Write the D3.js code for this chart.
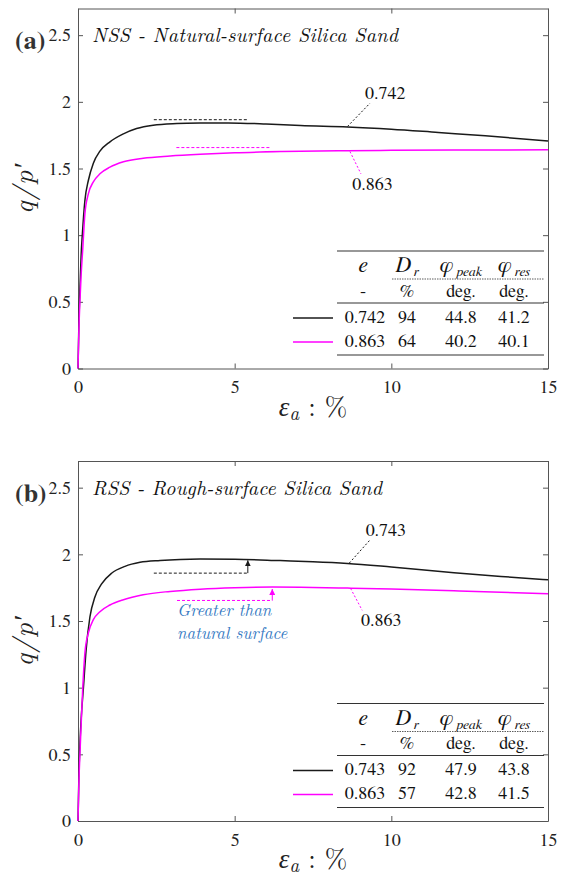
<!DOCTYPE html>
<html>
<head>
<meta charset="utf-8">
<script src="https://cdn.jsdelivr.net/npm/d3@7"></script>
<style>
  html, body { margin: 0; padding: 0; background: #fff; }
  .axis path, .axis line { stroke: #555; stroke-width: 1; }
</style>
</head>
<body>
<svg id="chart" width="563" height="878"></svg>
<script>
// ---- data ----
const xTicks = [0, 5, 10, 15];
const yTicks = [0, 0.5, 1, 1.5, 2, 2.5];

// (a) NSS
const nssDenseX = [0, 0.03, 0.07, 0.1, 0.14, 0.22, 0.33, 0.49, 0.7, 1.02, 1.45, 1.87, 2.4, 3.15, 3.9, 4.8, 6, 7.1, 8.6, 10, 11.5, 13, 15];
const nssDenseY = [0, 0.35, 0.65, 0.85, 1.01, 1.26, 1.41, 1.54, 1.63, 1.70, 1.76, 1.80, 1.825, 1.837, 1.841, 1.842, 1.834, 1.822, 1.812, 1.795, 1.77, 1.745, 1.707];
const nssLooseX = [0, 0.03, 0.07, 0.1, 0.15, 0.22, 0.33, 0.49, 0.7, 1.02, 1.45, 2.08, 2.94, 3.9, 5, 6.5, 8.6, 10, 12, 15];
const nssLooseY = [0, 0.3, 0.55, 0.7, 0.89, 1.16, 1.31, 1.40, 1.46, 1.51, 1.55, 1.577, 1.594, 1.607, 1.618, 1.627, 1.634, 1.636, 1.638, 1.64];

// (b) RSS
const rssDenseX = [0, 0.03, 0.07, 0.11, 0.17, 0.26, 0.38, 0.54, 0.76, 1.08, 1.5, 1.98, 2.62, 3.26, 3.9, 5, 6.45, 7.5, 8.6, 10, 12, 13.5, 15];
const rssDenseY = [0, 0.35, 0.62, 0.8, 0.99, 1.285, 1.53, 1.68, 1.78, 1.86, 1.91, 1.94, 1.954, 1.962, 1.965, 1.963, 1.953, 1.945, 1.932, 1.905, 1.862, 1.834, 1.809];
const rssLooseX = [0, 0.03, 0.07, 0.1, 0.15, 0.22, 0.33, 0.49, 0.7, 1.02, 1.45, 2.08, 2.94, 3.9, 5, 6.2, 7.5, 8.6, 10, 12, 13.5, 15];
const rssLooseY = [0, 0.3, 0.55, 0.72, 0.99, 1.26, 1.41, 1.51, 1.57, 1.62, 1.66, 1.697, 1.722, 1.739, 1.75, 1.755, 1.752, 1.747, 1.74, 1.727, 1.716, 1.704];

// peak reference dashes [x0, x1, y, arrow tip y]
const nssPeakDense = [2.42, 5.41, 1.866];
const nssPeakLoose = [3.14, 6.14, 1.657];
const rssPeakDense = [2.42, 5.42, 1.859, 1.955];
const rssPeakLoose = [3.16, 6.2, 1.654, 1.74];

// void-ratio labels: [curve x, curve y, label-end x, label-end y]
const nssLeaderDense = [8.6, 1.815, 9.32, 1.99];
const nssLeaderLoose = [8.68, 1.627, 9.03, 1.46];
const rssLeaderDense = [8.66, 1.935, 9.32, 2.108];
const rssLeaderLoose = [8.7, 1.744, 9.07, 1.58];

const tableHead = [{ t: "e", s: "" }, { t: "D", s: "r" }, { t: "φ", s: "peak" }, { t: "φ", s: "res" }];
const tableUnits = ["-", "%", "deg.", "deg."];
const nssRows = [["0.742", "94", "44.8", "41.2"], ["0.863", "64", "40.2", "40.1"]];
const rssRows = [["0.743", "92", "47.9", "43.8"], ["0.863", "57", "42.8", "41.5"]];
const noteLines = ["Greater than", "natural surface"];

const BLACK = "#1a1a1a", MAGENTA = "#ff00ff", BLUE = "#3579c2";
const NUM = "FreeSerif";
const MATH = "'Latin Modern Roman'";

// ---- layout ----
const left = 78, W = 470, H = 360;
const svg = d3.select("#chart");

const defs = svg.append("defs");
[["arrK", BLACK], ["arrM", MAGENTA]].forEach(([id, c]) => {
  defs.append("marker")
    .attr("id", id).attr("viewBox", "0 0 6 6")
    .attr("refX", 6).attr("refY", 3)
    .attr("markerWidth", 6).attr("markerHeight", 6)
    .attr("markerUnits", "userSpaceOnUse").attr("orient", "auto")
    .append("path").attr("d", "M0,0 L6,3 L0,6 z").attr("fill", c);
});

const panels = [
  {
    top: 8.5, tag: "(a)", title: "NSS - Natural-surface Silica Sand", titleLen: 306,
    dense: [nssDenseX, nssDenseY], loose: [nssLooseX, nssLooseY],
    peakD: nssPeakDense, peakL: nssPeakLoose, arrows: false,
    leadD: nssLeaderDense, leadL: nssLeaderLoose,
    labD: "0.742", labL: "0.863", labDpos: [9.16, 2.02], labLpos: [8.75, 1.34],
    rows: nssRows, note: false
  },
  {
    top: 461, tag: "(b)", title: "RSS - Rough-surface Silica Sand", titleLen: 290,
    dense: [rssDenseX, rssDenseY], loose: [rssLooseX, rssLooseY],
    peakD: rssPeakDense, peakL: rssPeakLoose, arrows: true,
    leadD: rssLeaderDense, leadL: rssLeaderLoose,
    labD: "0.743", labL: "0.863", labDpos: [9.18, 2.138], labLpos: [9.03, 1.462],
    rows: rssRows, note: true
  }
];

panels.forEach(p => drawPanel(p));

function drawPanel(p) {
  const g = svg.append("g").attr("transform", `translate(${left},${p.top})`);
  const x = d3.scaleLinear().domain([0, 15]).range([0, W]);
  const y = d3.scaleLinear().domain([0, 2.7]).range([H, 0]);

  // axes (box with inward ticks)
  g.append("g").attr("class", "axis").attr("transform", `translate(0,${H})`)
    .call(d3.axisBottom(x).tickValues(xTicks).tickSizeInner(-5).tickSizeOuter(0).tickPadding(12).tickFormat(d3.format("d")));
  g.append("g").attr("class", "axis")
    .call(d3.axisLeft(y).tickValues(yTicks).tickSizeInner(-5).tickSizeOuter(0).tickPadding(7).tickFormat(d => d));
  g.append("g").attr("class", "axis")
    .call(d3.axisTop(x).tickValues(xTicks).tickSizeInner(-5).tickSizeOuter(0).tickFormat(""));
  g.append("g").attr("class", "axis").attr("transform", `translate(${W},0)`)
    .call(d3.axisRight(y).tickValues(yTicks).tickSizeInner(-5).tickSizeOuter(0).tickFormat(""));
  g.selectAll(".axis").attr("font-family", null).attr("font-size", null);
  g.selectAll(".axis text").style("font-family", NUM).style("font-size", "18px").attr("fill", "#222");

  // curves
  const line = d3.line().x(d => x(d[0])).y(d => y(d[1])).curve(d3.curveMonotoneX);
  [[p.dense, BLACK], [p.loose, MAGENTA]].forEach(([xy, c]) => {
    g.append("path")
      .datum(xy[0].map((v, i) => [v, xy[1][i]]))
      .attr("d", line).attr("fill", "none").attr("stroke", c).attr("stroke-width", 1.5);
  });

  // peak reference dashes
  [[p.peakD, BLACK, "arrK"], [p.peakL, MAGENTA, "arrM"]].forEach(([pk, c, m]) => {
    g.append("line")
      .attr("x1", x(pk[0])).attr("x2", x(pk[1])).attr("y1", y(pk[2])).attr("y2", y(pk[2]))
      .attr("stroke", c).attr("stroke-width", 1).attr("stroke-dasharray", "3,2");
    if (p.arrows) {
      g.append("line")
        .attr("x1", x(pk[1])).attr("x2", x(pk[1])).attr("y1", y(pk[2])).attr("y2", y(pk[3]))
        .attr("stroke", c).attr("stroke-width", 1).attr("marker-end", `url(#${m})`);
    }
  });

  // void ratio leaders + labels
  [[p.leadD, BLACK, p.labD, p.labDpos], [p.leadL, MAGENTA, p.labL, p.labLpos]].forEach(([ld, c, t, pos]) => {
    g.append("line")
      .attr("x1", x(ld[0])).attr("y1", y(ld[1])).attr("x2", x(ld[2])).attr("y2", y(ld[3]))
      .attr("stroke", c).attr("stroke-width", 1).attr("stroke-dasharray", "2,2");
    g.append("text").attr("x", x(pos[0])).attr("y", y(pos[1]))
      .style("font-family", NUM).style("font-size", "18px").attr("fill", "#111").text(t);
  });

  if (p.note) {
    g.selectAll("text.note").data(noteLines).enter().append("text")
      .attr("class", "note").attr("x", 99).attr("y", (d, i) => 155 + i * 23)
      .style("font-family", MATH).style("font-size", "17px").style("font-style", "italic")
      .attr("fill", BLUE).text(d => d);
  }

  // title + panel tag
  g.append("text").attr("x", 14).attr("y", 33.5)
    .style("font-family", MATH).style("font-size", "20px").style("font-style", "italic").attr("fill", "#111")
    .attr("textLength", p.titleLen).attr("lengthAdjust", "spacing").text(p.title);
  g.append("text").attr("x", -63).attr("y", 40.5)
    .style("font-family", NUM).style("font-size", "26px").style("font-weight", "bold").attr("fill", "#333").text(p.tag);

  // axis labels
  g.append("text").attr("transform", `translate(-45,${H / 2}) rotate(-90)`)
    .style("font-family", MATH).style("font-size", "28px").style("font-style", "italic")
    .attr("text-anchor", "middle").attr("letter-spacing", 1).attr("fill", "#222").text("q/p′");
  const xl = g.append("text").attr("x", W / 2).attr("y", H + 47)
    .style("font-family", MATH).style("font-size", "27px").attr("text-anchor", "middle").attr("fill", "#222");
  xl.append("tspan").style("font-style", "italic").text("ε");
  xl.append("tspan").style("font-style", "italic").style("font-size", "19px").attr("dy", 4).text("a");
  xl.append("tspan").attr("dy", -4).text(" : %");

  // legend table
  const cols = [285, 329, 383, 436];
  const tb = g.append("g");
  const hline = (y0, x0, x1, dash, w) => tb.append("line")
    .attr("x1", x0).attr("x2", x1).attr("y1", y0).attr("y2", y0)
    .attr("stroke", "#333").attr("stroke-width", w || 1.2).attr("stroke-dasharray", dash || null);
  hline(242.5, 259, 466);
  hline(270.5, 314, 466, "1.5,1", 0.8);
  hline(294.5, 259, 466);
  hline(346.5, 259, 466);

  tb.selectAll("text.head").data(tableHead).enter().append("text")
    .attr("class", "head").attr("x", (d, i) => cols[i]).attr("y", 263.5)
    .style("font-family", NUM).attr("text-anchor", "middle").attr("fill", "#111")
    .each(function (d) {
      const t = d3.select(this);
      t.append("tspan").style("font-size", "22px").style("font-style", "italic").text(d.t);
      if (d.s) t.append("tspan").style("font-size", "14px").style("font-style", "italic").attr("dx", 3).attr("dy", 4).text(d.s);
    });
  tb.selectAll("text.unit").data(tableUnits).enter().append("text")
    .attr("class", "unit").attr("x", (d, i) => cols[i]).attr("y", 288)
    .style("font-family", NUM).style("font-size", "18px").attr("text-anchor", "middle").attr("fill", "#111").text(d => d);

  const rowY = [314, 338];
  const rowC = [BLACK, MAGENTA];
  p.rows.forEach((r, j) => {
    tb.append("line").attr("x1", 215).attr("x2", 255)
      .attr("y1", rowY[j] - 4.5).attr("y2", rowY[j] - 4.5)
      .attr("stroke", rowC[j]).attr("stroke-width", 1.5);
    tb.selectAll(`text.r${j}`).data(r).enter().append("text")
      .attr("class", `r${j}`).attr("x", (d, i) => cols[i] + (i === 0 ? 2 : 0)).attr("y", rowY[j])
      .style("font-family", NUM).style("font-size", "18px").attr("text-anchor", "middle").attr("fill", "#111").text(d => d);
  });
}
</script>
</body>
</html>
